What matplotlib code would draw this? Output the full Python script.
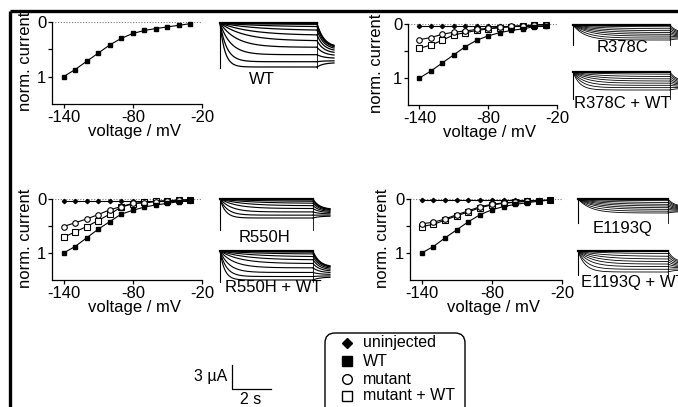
import numpy as np
import matplotlib
matplotlib.use("Agg")
import matplotlib.pyplot as plt
from matplotlib.patches import FancyBboxPatch

plt.rcParams['font.family'] = ['Liberation Sans', 'DejaVu Sans']

W, H = 678, 407

# ---- steady-state I/V data (normalised current) ----
volt = [-140, -130, -120, -110, -100, -90, -80, -70, -60, -50, -40, -30]

wt_only = [1.0, 0.87, 0.72, 0.57, 0.42, 0.30, 0.21, 0.155, 0.12, 0.09, 0.06, 0.03]

r378c_wt = [1.0, 0.87, 0.72, 0.57, 0.42, 0.30, 0.22, 0.16, 0.12, 0.09, 0.05, 0.03]
r378c_mut = [0.29, 0.25, 0.19, 0.15, 0.13, 0.10, 0.08, 0.06, 0.04, 0.03, 0.02, 0.01]
r378c_mutwt = [0.45, 0.39, 0.30, 0.20, 0.16, 0.12, 0.09, 0.07, 0.05, 0.04, 0.02, 0.01]
r378c_uninj = [0.03, 0.03, 0.03, 0.03, 0.03, 0.03, 0.03, 0.03, 0.03, 0.03, 0.03, 0.03]

r550h_wt = [1.0, 0.88, 0.72, 0.56, 0.42, 0.28, 0.21, 0.15, 0.11, 0.08, 0.05, 0.02]
r550h_mut = [0.51, 0.44, 0.37, 0.29, 0.20, 0.14, 0.08, 0.07, 0.05, 0.04, 0.02, 0.02]
r550h_mutwt = [0.71, 0.61, 0.51, 0.40, 0.28, 0.15, 0.09, 0.06, 0.04, 0.03, 0.02, 0.01]
r550h_uninj = [0.03, 0.03, 0.03, 0.03, 0.03, 0.03, 0.03, 0.03, 0.03, 0.03, 0.03, 0.03]

e1193q_wt = [1.0, 0.88, 0.72, 0.57, 0.42, 0.29, 0.20, 0.14, 0.10, 0.07, 0.04, 0.02]
e1193q_mut = [0.46, 0.43, 0.37, 0.29, 0.22, 0.14, 0.10, 0.07, 0.06, 0.04, 0.03, 0.02]
e1193q_mutwt = [0.51, 0.47, 0.39, 0.31, 0.24, 0.16, 0.11, 0.08, 0.06, 0.04, 0.03, 0.02]
e1193q_uninj = [0.025, 0.025, 0.025, 0.025, 0.025, 0.025, 0.025, 0.025, 0.025, 0.025, 0.025, 0.025]

# ---- current trace families: end-of-step amplitude (fraction) and time constant ----
wt_amp = [0, 0.03, 0.08, 0.16, 0.27, 0.40, 0.55, 0.72, 0.88, 1.0]
wt_tau = [0.5, 0.5, 0.45, 0.4, 0.32, 0.25, 0.17, 0.11, 0.07, 0.05]
r378c_amp = [0, 0.12, 0.25, 0.38, 0.5, 0.62, 0.74, 0.87, 1.0]
r378c_tau = [0.3, 0.3, 0.27, 0.24, 0.21, 0.19, 0.17, 0.14, 0.12]
r378cwt_amp = [0, 0.12, 0.25, 0.38, 0.5, 0.62, 0.74, 0.87, 1.0]
r378cwt_tau = [0.3, 0.27, 0.23, 0.2, 0.17, 0.14, 0.11, 0.09, 0.07]
r550h_amp = [0, 0.05, 0.12, 0.22, 0.35, 0.5, 0.68, 0.85, 1.0]
r550h_tau = [0.5, 0.45, 0.4, 0.33, 0.25, 0.18, 0.12, 0.08, 0.06]
r550hwt_amp = [0, 0.04, 0.1, 0.19, 0.3, 0.43, 0.58, 0.74, 0.88, 1.0]
r550hwt_tau = [0.5, 0.45, 0.4, 0.35, 0.28, 0.22, 0.15, 0.1, 0.07, 0.05]
e1193q_amp = [0, 0.12, 0.25, 0.38, 0.5, 0.62, 0.74, 0.87, 1.0]
e1193q_tau = [0.35, 0.33, 0.3, 0.27, 0.24, 0.21, 0.19, 0.16, 0.14]
e1193qwt_amp = [0, 0.12, 0.25, 0.38, 0.5, 0.62, 0.74, 0.87, 1.0]
e1193qwt_tau = [0.35, 0.31, 0.27, 0.23, 0.19, 0.16, 0.13, 0.1, 0.08]

fig = plt.figure(figsize=(W / 100, H / 100), dpi=100)


def iv_axes(left, right, top, bottom, label_gap):
    ax = fig.add_axes([left / W, 1 - bottom / H, (right - left) / W, (bottom - top) / H])
    ax.patch.set_alpha(0)
    ax.set_xlim(-150, -20)
    ax.set_ylim(1.5, 0)
    for s in ['top', 'right']:
        ax.spines[s].set_visible(False)
    for s in ['left', 'bottom']:
        ax.spines[s].set_linewidth(0.9)
    ax.set_xticks([-140, -80, -20])
    ax.set_xticklabels(['-140', '-80', '-20'])
    ax.set_yticks([0, 0.5, 1])
    ax.set_yticklabels(['0', '', '1'])
    ax.tick_params(direction='out', length=3, width=0.9, labelsize=12, pad=1.0)
    ax.axhline(0, color='#777777', ls=(0, (1, 1.5)), lw=0.8, zorder=1)
    ax.set_ylabel('norm. current', fontsize=12)
    ax.yaxis.set_label_coords(-label_gap / (right - left), 0.52)
    ax.set_xlabel('voltage / mV', fontsize=12)
    ax.xaxis.set_label_coords(0.55, -0.245)
    return ax


def iv_series(ax, uninj, wt, mut, mutwt):
    kw = dict(color='black', lw=0.8, clip_on=False)
    if uninj is not None:
        ax.plot(volt, uninj, marker='D', ms=2.2, mfc='black', mec='black', **kw)
    if mutwt is not None:
        ax.plot(volt, mutwt, marker='s', ms=4.2, mfc='white', mec='black', mew=0.8, **kw)
    if mut is not None:
        ax.plot(volt, mut, marker='o', ms=4.0, mfc='white', mec='black', mew=0.8, **kw)
    ax.plot(volt, wt, marker='s', ms=3.3, mfc='black', mec='black', **kw)


ax1 = iv_axes(52, 202, 22, 104, 19)
iv_series(ax1, None, wt_only, None, None)
ax2 = iv_axes(408, 557, 24, 105, 24)
iv_series(ax2, r378c_uninj, r378c_wt, r378c_mut, r378c_mutwt)
ax3 = iv_axes(52, 202, 199, 280, 19)
iv_series(ax3, r550h_uninj, r550h_wt, r550h_mut, r550h_mutwt)
ax4 = iv_axes(410, 562, 199, 280, 20)
iv_series(ax4, e1193q_uninj, e1193q_wt, e1193q_mut, e1193q_mutwt)

# overlay in pixel coordinates for traces, border, scale bar, legend
ov = fig.add_axes([0, 0, 1, 1])
ov.set_xlim(0, W)
ov.set_ylim(H, 0)
ov.axis('off')
ov.patch.set_alpha(0)


def traces(x0, x1, xclip, top, h, vlen, amps, taus, label, lx, ly, lw, ha='center'):
    t = np.linspace(0, 1, 200)
    tt = np.linspace(1, 1 + (xclip - x1) / (x1 - x0), 40)
    for a, tau in zip(amps, taus):
        y = a * (1 - np.exp(-t / tau)) / (1 - np.exp(-1 / tau))
        ov.plot(x0 + t * (x1 - x0), top + h * y, color='black', lw=lw)
        target = 0.55 + 0.35 * a
        yt = target + (a - target) * np.exp(-(tt - 1) / 0.07)
        ov.plot(x0 + tt * (x1 - x0), top + h * yt, color='black', lw=lw)
    ov.plot([x0, x1], [top, top], color='black', lw=1.6)
    ov.plot([x0, x0], [top, top + vlen], color='black', lw=0.8)
    ov.plot([x1, x1], [top, top + vlen], color='black', lw=0.6)
    ov.text(lx, ly, label, fontsize=12, ha=ha, va='center')


traces(220, 317, 334, 23, 44, 45, wt_amp, wt_tau, 'WT', 262, 80, 0.9)
traces(573, 670, 690, 25, 15, 20, r378c_amp, r378c_tau, 'R378C', 622, 48, 0.6)
traces(573, 670, 690, 72, 18, 27, r378cwt_amp, r378cwt_tau, 'R378C + WT', 622, 104, 0.6)
traces(220, 313, 330, 199, 19, 31, r550h_amp, r550h_tau, 'R550H', 265, 238, 0.8)
traces(220, 313, 330, 251, 29, 31, r550hwt_amp, r550hwt_tau, 'R550H + WT', 273, 287, 0.8)
traces(578, 668, 690, 199, 14, 24, e1193q_amp, e1193q_tau, 'E1193Q', 623, 228, 0.6)
traces(578, 668, 690, 251, 21, 24, e1193qwt_amp, e1193qwt_tau, 'E1193Q + WT', 581, 283, 0.6, ha='left')

# figure border (top and left)
ov.plot([9.5, W], [11, 11], color='black', lw=2.4, solid_capstyle='butt', clip_on=False)
ov.plot([9.5, 9.5], [11, H], color='black', lw=2.4, solid_capstyle='butt', clip_on=False)

# scale bar
ov.plot([232, 232, 271], [365, 389, 389], color='black', lw=0.9)
ov.text(227, 377, '3 µA', fontsize=11.5, ha='right', va='center')
ov.text(251, 400, '2 s', fontsize=11.5, ha='center', va='center')

# legend box
box = FancyBboxPatch((325, 333), 140, 90, boxstyle='round,pad=0,rounding_size=10',
                     fc='white', ec='black', lw=1.0)
ov.add_patch(box)
leg_labels = ['uninjected', 'WT', 'mutant', 'mutant + WT']
leg_y = [343, 361, 379, 396]
ov.plot([347], [leg_y[0]], marker='D', ms=5, color='black', ls='none')
ov.plot([347], [leg_y[1]], marker='s', ms=6.5, color='black', ls='none')
ov.plot([347], [leg_y[2]], marker='o', ms=7, mfc='white', mec='black', mew=1.0, ls='none')
ov.plot([347], [leg_y[3]], marker='s', ms=7, mfc='white', mec='black', mew=1.0, ls='none')
for lab, y in zip(leg_labels, leg_y):
    ov.text(363, y, lab, fontsize=11.5, ha='left', va='center')

fig.savefig('out.png', dpi=100)
